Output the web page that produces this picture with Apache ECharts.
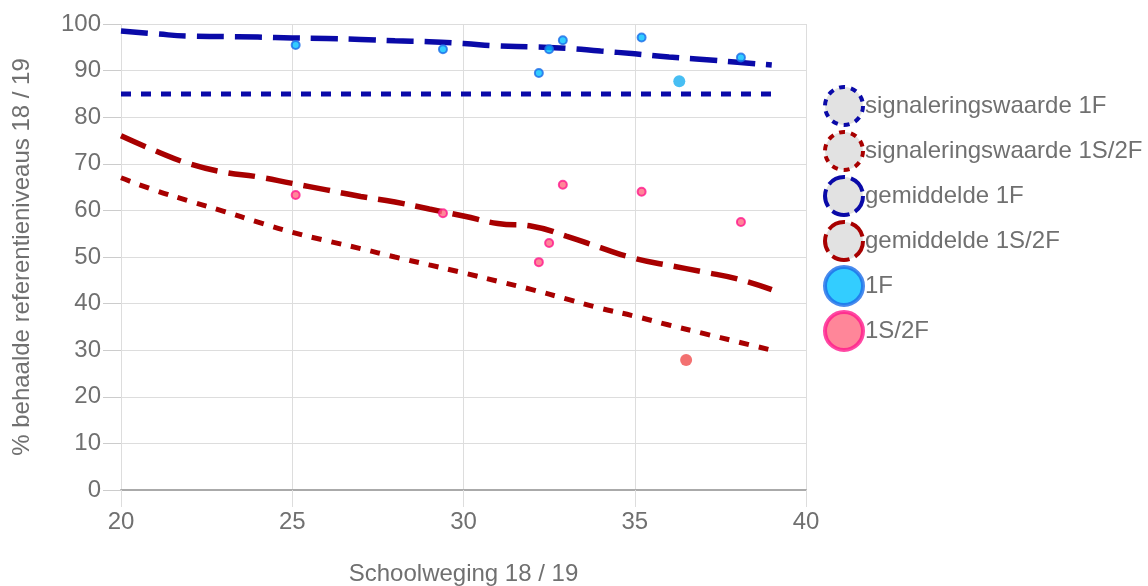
<!DOCTYPE html>
<html><head><meta charset="utf-8">
<script src="https://cdn.jsdelivr.net/npm/echarts@6/dist/echarts.min.js"></script>
<style>html,body{margin:0;padding:0;background:#fff}#c{width:1148px;height:586px}</style>
</head><body><div id="c"></div>
<script>
const xs = [20,21,22,23,24,25,26,27,28,29,30,31,32,33,34,35,36,37,38,39];
const sig1F = [85,85,85,85,85,85,85,85,85,85,85,85,85,85,85,85,85,85,85,85];
const gem1F = [98.5,97.9,97.4,97.3,97.2,97.0,96.9,96.7,96.4,96.2,95.8,95.3,95.1,94.8,94.2,93.6,92.9,92.4,91.8,91.2];
const sig1S2F = [67,64.3,62,59.8,57.5,55.3,53.5,51.8,50,48.3,46.6,44.8,43,41,39,37.3,35.4,33.6,31.8,30];
const gem1S2F = [76,72.8,70,68.2,67.2,65.8,64.4,63,61.8,60.3,58.8,57.2,56.6,54.5,52,49.7,48.2,46.8,45.3,43];
const sw = [25.1,29.4,32.2,32.5,32.9,35.2,36.3,38.1];
const p1F = [95.5,94.6,89.5,94.6,96.5,97.1,87.7,92.8];
const sw2 = [25.1,29.4,32.2,32.5,32.9,35.2,36.5,38.1];
const p1S2F = [63.3,59.4,48.9,53.0,65.5,64.0,27.9,57.5];
const xTicks = [20,25,30,35,40];
const yTicks = [0,10,20,30,40,50,60,70,80,90,100];

const BLUE = '#0a0aa8', RED = '#a80000';
const FONT = 'Liberation Sans';
const pair = (a,b) => a.map((v,i)=>[v,b[i]]);
const chart = echarts.init(document.getElementById('c'));
const txt = '#707070';
chart.setOption({
  animation:false,
  grid:{left:121,right:342,top:24,bottom:96,outerBoundsMode:'none',containLabel:false},
  xAxis:{type:'value',min:xTicks[0],max:xTicks[xTicks.length-1],interval:5,
    name:'Schoolweging 18 / 19',nameLocation:'middle',nameGap:72,
    nameTextStyle:{color:txt,fontSize:24,fontFamily:FONT},
    axisLine:{show:true,lineStyle:{color:'#aaa',width:2}},
    axisTick:{show:true,length:17,lineStyle:{color:'#ddd'}},
    axisLabel:{color:txt,fontSize:24,margin:20,fontFamily:FONT},
    splitLine:{show:true,lineStyle:{color:'#ddd'}}},
  yAxis:{type:'value',min:yTicks[0],max:yTicks[yTicks.length-1],interval:10,
    name:'% behaalde referentieniveaus 18 / 19',nameLocation:'middle',nameGap:87,
    nameTextStyle:{color:txt,fontSize:24,fontFamily:FONT},
    axisLine:{show:false},
    axisTick:{show:true,length:18,lineStyle:{color:'#ccc'}},
    axisLabel:{color:txt,fontSize:24,margin:20,fontFamily:FONT},
    splitLine:{show:true,lineStyle:{color:'#ddd'}}},
  legend:{orient:'vertical',left:818,top:80,itemWidth:38,itemHeight:38,itemGap:3,icon:'circle',
    textStyle:{color:txt,fontSize:24,fontFamily:FONT,padding:[0,0,0,-3]},
    data:[
      {name:'signaleringswaarde 1F',itemStyle:{color:'#e2e2e2',borderColor:BLUE,borderWidth:4,borderType:[6,6]}},
      {name:'signaleringswaarde 1S/2F',itemStyle:{color:'#e2e2e2',borderColor:RED,borderWidth:4,borderType:[6,6]}},
      {name:'gemiddelde 1F',itemStyle:{color:'#e2e2e2',borderColor:BLUE,borderWidth:4,borderType:[18,6]}},
      {name:'gemiddelde 1S/2F',itemStyle:{color:'#e2e2e2',borderColor:RED,borderWidth:4,borderType:[18,6]}},
      {name:'1F',itemStyle:{color:'#00c0ff',borderColor:'#1c6de8',borderWidth:4}},
      {name:'1S/2F',itemStyle:{color:'#ff6880',borderColor:'#ff1a8c',borderWidth:4}}
    ]},
  series:[
    {name:'signaleringswaarde 1F',type:'line',data:pair(xs,sig1F),symbol:'none',
      lineStyle:{color:BLUE,width:5,type:[10,10]},itemStyle:{color:BLUE}},
    {name:'signaleringswaarde 1S/2F',type:'line',data:pair(xs,sig1S2F),symbol:'none',smooth:true,
      lineStyle:{color:RED,width:5,type:[10,10]},itemStyle:{color:RED}},
    {name:'gemiddelde 1F',type:'line',data:pair(xs,gem1F),symbol:'none',smooth:true,
      lineStyle:{color:BLUE,width:5.5,type:[27,11]},itemStyle:{color:BLUE}},
    {name:'gemiddelde 1S/2F',type:'line',data:pair(xs,gem1S2F),symbol:'none',smooth:true,
      lineStyle:{color:RED,width:5.5,type:[27,11]},itemStyle:{color:RED}},
    {name:'1F',type:'scatter',z:5,symbolSize:8,
      data:pair(sw,p1F).map((d,i)=> i===6 ? {value:d,symbolSize:12,itemStyle:{color:'#19aef0',borderWidth:0}} : d),
      itemStyle:{color:'#00c0ff',borderColor:'#1c6de8',borderWidth:2}},
    {name:'1S/2F',type:'scatter',z:5,symbolSize:8,
      data:pair(sw2,p1S2F).map((d,i)=> i===6 ? {value:d,symbolSize:12,itemStyle:{color:'#f04e4e',borderWidth:0}} : d),
      itemStyle:{color:'#ff6880',borderColor:'#ff1a8c',borderWidth:2}}
  ]
});
</script></body></html>
